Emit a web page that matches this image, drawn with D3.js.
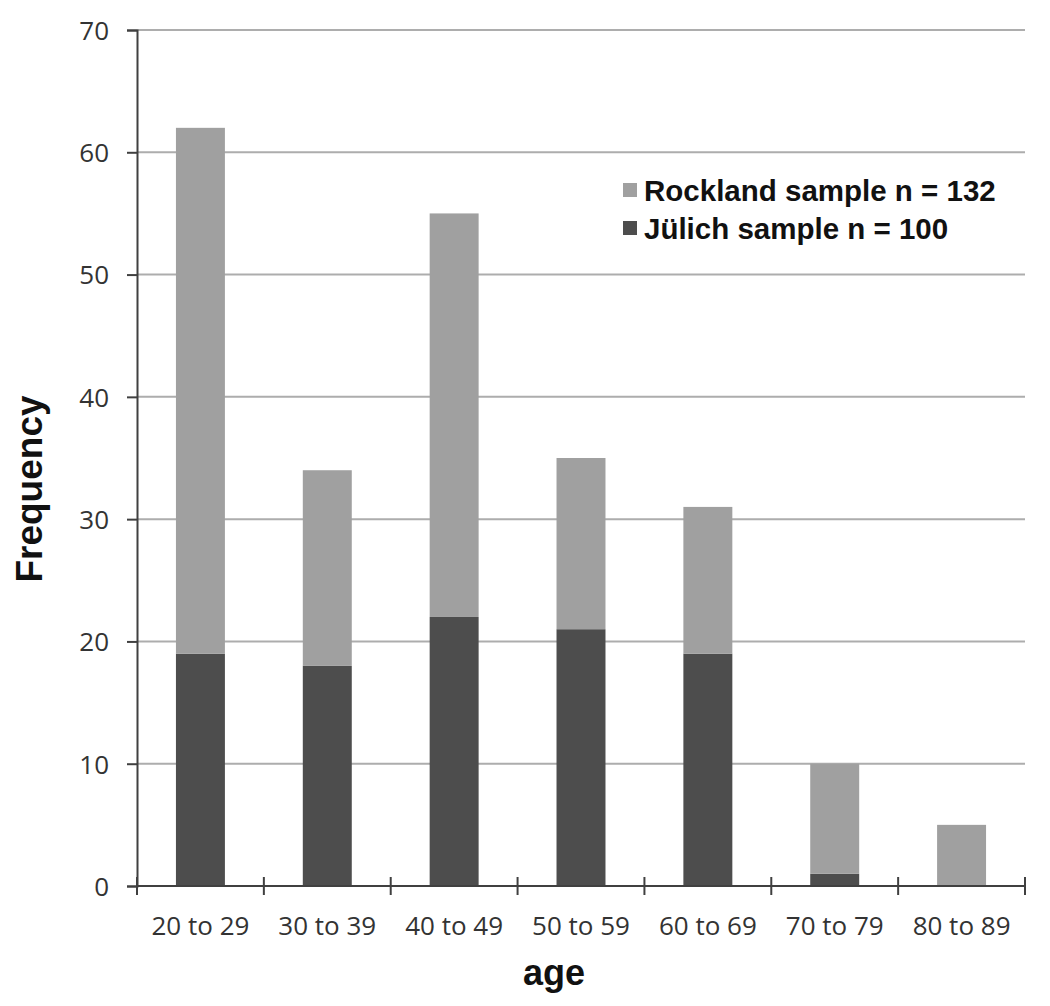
<!DOCTYPE html>
<html>
<head>
<meta charset="utf-8">
<script src="https://cdn.jsdelivr.net/npm/d3@7"></script>
<style>
  html, body { margin: 0; padding: 0; background: #fff; }
  svg { display: block; }
</style>
</head>
<body>
<svg id="chart" width="1050" height="1006"></svg>
<script>
const categories = ["20 to 29", "30 to 39", "40 to 49", "50 to 59", "60 to 69", "70 to 79", "80 to 89"];
const julich = [19, 18, 22, 21, 19, 1, 0];
const rockland = [43, 16, 33, 14, 12, 9, 5];
const seriesNames = ["Rockland sample n = 132", "Jülich sample n = 100"];
const yTicks = [0, 10, 20, 30, 40, 50, 60, 70];

const svg = d3.select("#chart");
const plotLeft = 137, plotRight = 1025, plotTop = 30, plotBottom = 886;

const x = d3.scaleBand().domain(categories).range([plotLeft, plotRight]).paddingInner(0.614).paddingOuter(0.307);
const y = d3.scaleLinear().domain([0, 70]).range([plotBottom, plotTop]);

const dark = "#4d4d4d", light = "#a0a0a0";

// gridlines
svg.append("g").selectAll("line").data(yTicks.filter(d => d > 0)).join("line")
  .attr("x1", plotLeft).attr("x2", plotRight)
  .attr("y1", d => y(d)).attr("y2", d => y(d))
  .attr("stroke", "#adadad").attr("stroke-width", 2);

// stacked data
const rows = categories.map((c, i) => ({ cat: c, julich: julich[i], rockland: rockland[i] }));
const stack = d3.stack().keys(["julich", "rockland"])(rows);
const colors = { julich: dark, rockland: light };

svg.append("g").selectAll("g").data(stack).join("g")
  .attr("fill", s => colors[s.key])
  .selectAll("rect").data(s => s).join("rect")
  .attr("x", d => x(d.data.cat))
  .attr("width", x.bandwidth())
  .attr("y", d => y(d[1]))
  .attr("height", d => y(d[0]) - y(d[1]));

// y axis
const yAxis = d3.axisLeft(y).tickValues(yTicks).tickSize(10).tickPadding(18);
const gy = svg.append("g").attr("transform", `translate(${plotLeft},0)`).call(yAxis);
gy.select(".domain").attr("stroke", "#404040").attr("stroke-width", 2);
gy.selectAll(".tick line").attr("stroke", "#404040").attr("stroke-width", 2);
gy.selectAll(".tick text").attr("font-family", "'Open Sans', sans-serif").attr("font-size", 26).attr("fill", "#333").attr("dy", "0.36em");

// x axis
const gx = svg.append("g").attr("transform", `translate(0,${plotBottom})`).call(d3.axisBottom(x).tickSize(0).tickPadding(31));
gx.select(".domain").remove();
gx.selectAll(".tick text").attr("font-family", "'Open Sans', sans-serif").attr("font-size", 26).attr("fill", "#333");
svg.append("line").attr("x1", plotLeft).attr("x2", plotRight).attr("y1", plotBottom).attr("y2", plotBottom)
  .attr("stroke", "#404040").attr("stroke-width", 2);
const boundaries = categories.map(c => x(c) - x.step() * x.paddingInner() / 2).concat([plotRight]);
svg.append("g").selectAll("line").data(boundaries).join("line")
  .attr("x1", d => d).attr("x2", d => d)
  .attr("y1", plotBottom - 9).attr("y2", plotBottom + 9)
  .attr("stroke", "#404040").attr("stroke-width", 2);

// axis titles
svg.append("text").attr("x", 554).attr("y", 985).attr("text-anchor", "middle")
  .attr("font-family", "'Liberation Sans', Arial, sans-serif").attr("font-weight", "bold")
  .attr("font-size", 36).attr("fill", "#111").text("age");
svg.append("text").attr("transform", "translate(42,489) rotate(-90)").attr("text-anchor", "middle")
  .attr("font-family", "'Liberation Sans', Arial, sans-serif").attr("font-weight", "bold")
  .attr("font-size", 37).attr("fill", "#111").text("Frequency");

// legend
const legend = svg.append("g");
const legendColors = [light, dark];
const legendY = [190, 228];
seriesNames.forEach((n, i) => {
  legend.append("rect").attr("x", 623).attr("y", legendY[i] - 7).attr("width", 14).attr("height", 14).attr("fill", legendColors[i]);
  legend.append("text").attr("x", 644).attr("y", legendY[i]).attr("dy", "0.36em")
    .attr("font-family", "'Liberation Sans', Arial, sans-serif").attr("font-weight", "bold")
    .attr("font-size", 29.5).attr("fill", "#111").text(n);
});
</script>
</body>
</html>
